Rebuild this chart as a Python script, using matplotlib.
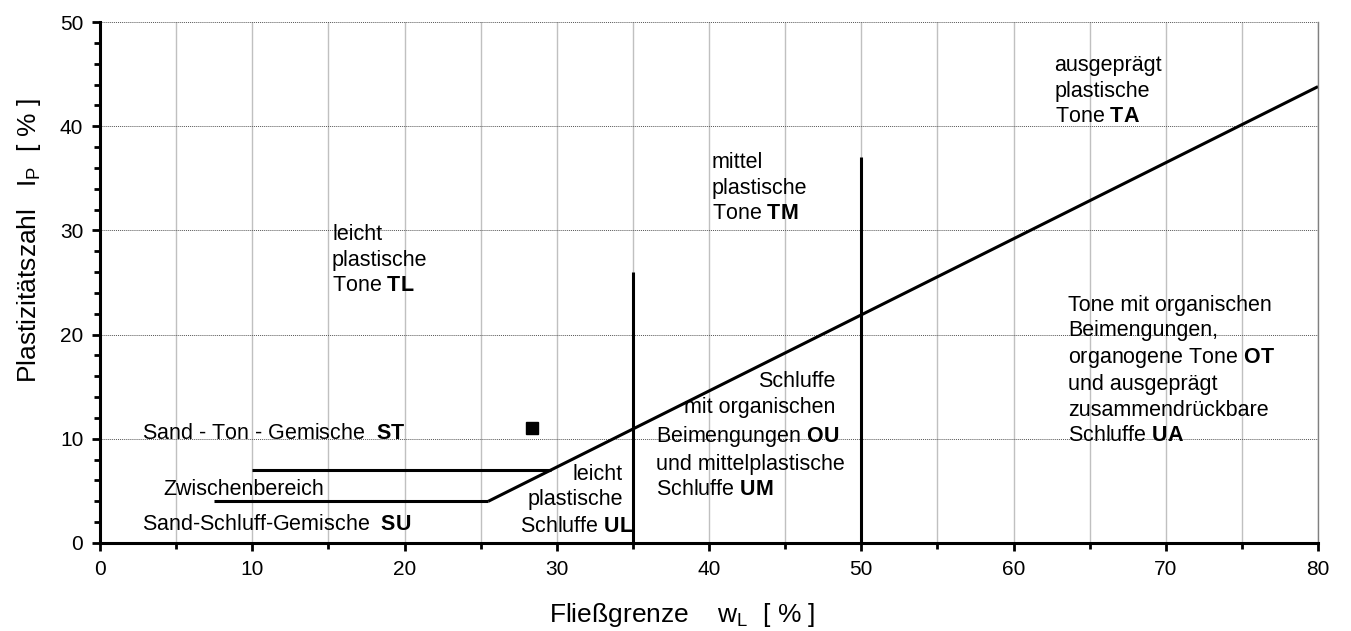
import matplotlib
matplotlib.use("Agg")
import matplotlib.pyplot as plt
from matplotlib.ticker import MultipleLocator

plt.rcParams["font.family"] = ["Liberation Sans", "DejaVu Sans"]
plt.rcParams["mathtext.fontset"] = "custom"
plt.rcParams["mathtext.rm"] = "Liberation Sans"
plt.rcParams["mathtext.it"] = "Liberation Sans:italic"
plt.rcParams["mathtext.bf"] = "Liberation Sans:bold"

# A-line (Ip = 0.73 (wL - 20)) from the kink to the chart edge
a_line_x = [25.5, 80.0]
a_line_y = [4.0, 43.8]

# boundaries of the intermediate zone
lower_x = [7.5, 25.5]
lower_y = [4.0, 4.0]
upper_x = [10.0, 29.6]
upper_y = [7.0, 7.0]

# vertical limits at wL = 35 and wL = 50
v35_x = [35.0, 35.0]
v35_y = [0.0, 26.0]
v50_x = [50.0, 50.0]
v50_y = [0.0, 37.0]

# the sample
sample_wl = [28.4]
sample_ip = [11.0]

fig = plt.figure(figsize=(13.51, 6.31), dpi=100)
ax = fig.add_axes([100 / 1351, 1 - 543 / 631, 1218 / 1351, 521 / 631])

ax.set_xlim(0, 80)
ax.set_ylim(0, 50)
ax.xaxis.set_major_locator(MultipleLocator(10))
ax.xaxis.set_minor_locator(MultipleLocator(5))
ax.yaxis.set_major_locator(MultipleLocator(10))
ax.yaxis.set_minor_locator(MultipleLocator(2))

ax.grid(True, axis="x", which="both", color="#c0c0c0", lw=1.0, ls="-")
ax.grid(True, axis="y", which="major", color="#555555", lw=0.7, ls=(0, (1, 1)))
ax.set_axisbelow(True)

for side in ["left", "bottom"]:
    ax.spines[side].set_linewidth(2.2)
    ax.spines[side].set_color("black")
ax.spines["right"].set_color("#808080")
ax.spines["right"].set_linewidth(1.0)
ax.spines["top"].set_visible(False)

ax.tick_params(which="major", direction="out", length=6, width=2.0, labelsize=15, pad=6)
ax.tick_params(which="minor", direction="out", length=4, width=2.0)

lw = 2.2
ax.plot(a_line_x, a_line_y, color="black", lw=lw, solid_capstyle="butt")
ax.plot(lower_x, lower_y, color="black", lw=lw, solid_capstyle="butt")
ax.plot(upper_x, upper_y, color="black", lw=lw, solid_capstyle="butt")
ax.plot(v35_x, v35_y, color="black", lw=lw, solid_capstyle="butt")
ax.plot(v50_x, v50_y, color="black", lw=lw, solid_capstyle="butt")
ax.plot(sample_wl, sample_ip, ls="none", marker="s", ms=9, color="black")

# va="baseline" on a multi-line text puts the last line on y
fs = 15.5
ls = 1.27
ax.text(15.24, 24.2, "leicht\nplastische\nTone $\\mathbf{TL}$", fontsize=fs, linespacing=ls, va="baseline")
ax.text(40.2, 31.1, "mittel\nplastische\nTone $\\mathbf{TM}$", fontsize=fs, linespacing=ls, va="baseline")
ax.text(62.7, 40.4, "ausgeprägt\nplastische\nTone $\\mathbf{TA}$", fontsize=fs, linespacing=ls, va="baseline")
ax.text(63.6, 9.8, "Tone mit organischen\nBeimengungen,\norganogene Tone $\\mathbf{OT}$\n"
        "und ausgeprägt\nzusammendrückbare\nSchluffe $\\mathbf{UA}$",
        fontsize=fs, linespacing=ls, va="baseline")
ax.text(48.3, 12.5, "Schluffe\nmit organischen", fontsize=fs, linespacing=ls,
        va="baseline", ha="right", multialignment="right")
ax.text(36.5, 4.6, "Beimengungen $\\mathbf{OU}$\nund mittelplastische\nSchluffe $\\mathbf{UM}$",
        fontsize=fs, linespacing=ls, va="baseline")
ax.text(34.35, 3.65, "leicht\nplastische", fontsize=fs, linespacing=ls,
        va="baseline", ha="right", multialignment="right")
ax.text(35.05, 1.05, "Schluffe $\\mathbf{UL}$", fontsize=fs, va="baseline", ha="right")
ax.text(2.75, 9.95, "Sand - Ton - Gemische  $\\mathbf{ST}$", fontsize=fs, va="baseline")
ax.text(4.15, 4.6, "Zwischenbereich", fontsize=fs, va="baseline")
ax.text(2.75, 1.25, "Sand-Schluff-Gemische  $\\mathbf{SU}$", fontsize=fs, va="baseline")

ax.set_xlabel("Fließgrenze    $\\mathrm{w_L}$  [ % ]", fontsize=19)
ax.set_ylabel("Plastizitätszahl   $\\mathrm{I_P}$  [ % ]", fontsize=19)
ax.xaxis.set_label_coords(0.478, -0.112)
ax.yaxis.set_label_coords(-0.047, 0.58)

fig.savefig("out.png", dpi=100)
